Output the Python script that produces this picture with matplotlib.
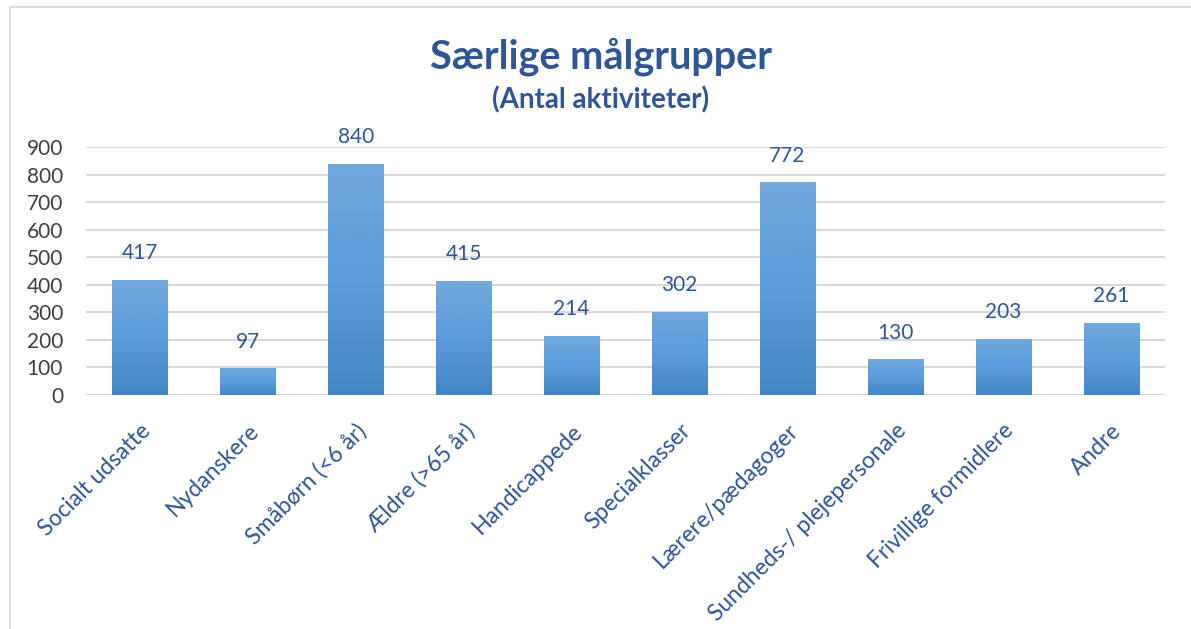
import numpy as np
import matplotlib
matplotlib.use('Agg')
import matplotlib.pyplot as plt
from matplotlib.colors import LinearSegmentedColormap
from matplotlib.patches import Rectangle

categories = ['Socialt udsatte', 'Nydanskere', 'Småbørn (<6 år)', 'Ældre (>65 år)',
              'Handicappede', 'Specialklasser', 'Lærere/pædagoger',
              'Sundheds-/ plejepersonale', 'Frivillige formidlere', 'Andre']
values = [417, 97, 840, 415, 214, 302, 772, 130, 203, 261]
yticks = [0, 100, 200, 300, 400, 500, 600, 700, 800, 900]

title = 'Særlige målgrupper'
subtitle = '(Antal aktiviteter)'

plt.rcParams['font.family'] = ['Lato', 'DejaVu Sans']
blue_text = '#2F5597'
grid_col = '#D9D9D9'

fig = plt.figure(figsize=(11.91, 6.29), dpi=100)
ax = fig.add_axes([86 / 1191, (629 - 395) / 629, (1165 - 86) / 1191, (395 - 147) / 629])

# outer chart border
fig.patches.append(Rectangle((10 / 1191, -0.05), 1.2, (629 - 7) / 629 + 0.05,
                             transform=fig.transFigure, fill=False,
                             edgecolor='#D9DEE6', linewidth=1.5))

x = np.arange(len(categories))
bars = ax.bar(x, values, width=0.51, color='none', zorder=3)

cmap = LinearSegmentedColormap.from_list('g', ['#4386C6', '#5B9CDC', '#72A8DC'])
grad = np.linspace(0, 1, 256).reshape(-1, 1)
for b in bars:
    x0, y0 = b.get_x(), b.get_y()
    w, h = b.get_width(), b.get_height()
    im = ax.imshow(grad, cmap=cmap, origin='lower', aspect='auto',
                   extent=[x0, x0 + w, y0, y0 + h], zorder=3)
    im.set_clip_path(b)

for xi, v in zip(x, values):
    ax.annotate(str(v), (xi, v), xytext=(0, 12), textcoords='offset points',
                ha='center', va='bottom', fontsize=15, color=blue_text)

ax.set_xlim(-0.5, len(categories) - 0.5)
ax.set_ylim(0, 900)
ax.set_yticks(yticks)
ax.yaxis.grid(True, color=grid_col, linewidth=1.5, zorder=0)
ax.set_axisbelow(True)
for s in ['left', 'right', 'top', 'bottom']:
    ax.spines[s].set_visible(False)
ax.tick_params('x', length=0, pad=18)
ax.tick_params('y', length=0, pad=16.5, labelsize=15, labelcolor='#404040')
ax.set_xticks(x)
ax.set_xticklabels(categories, rotation=45, ha='right', rotation_mode='anchor',
                   fontsize=16.5, color=blue_text)

fig.text(601 / 1191, 1 - 57 / 629, title, ha='center', va='center',
         fontsize=28.5, fontweight='bold', color=blue_text)
fig.text(601 / 1191, 1 - 100 / 629, subtitle, ha='center', va='center',
         fontsize=20, fontweight='bold', color=blue_text)

fig.savefig('out.png', dpi=100)
